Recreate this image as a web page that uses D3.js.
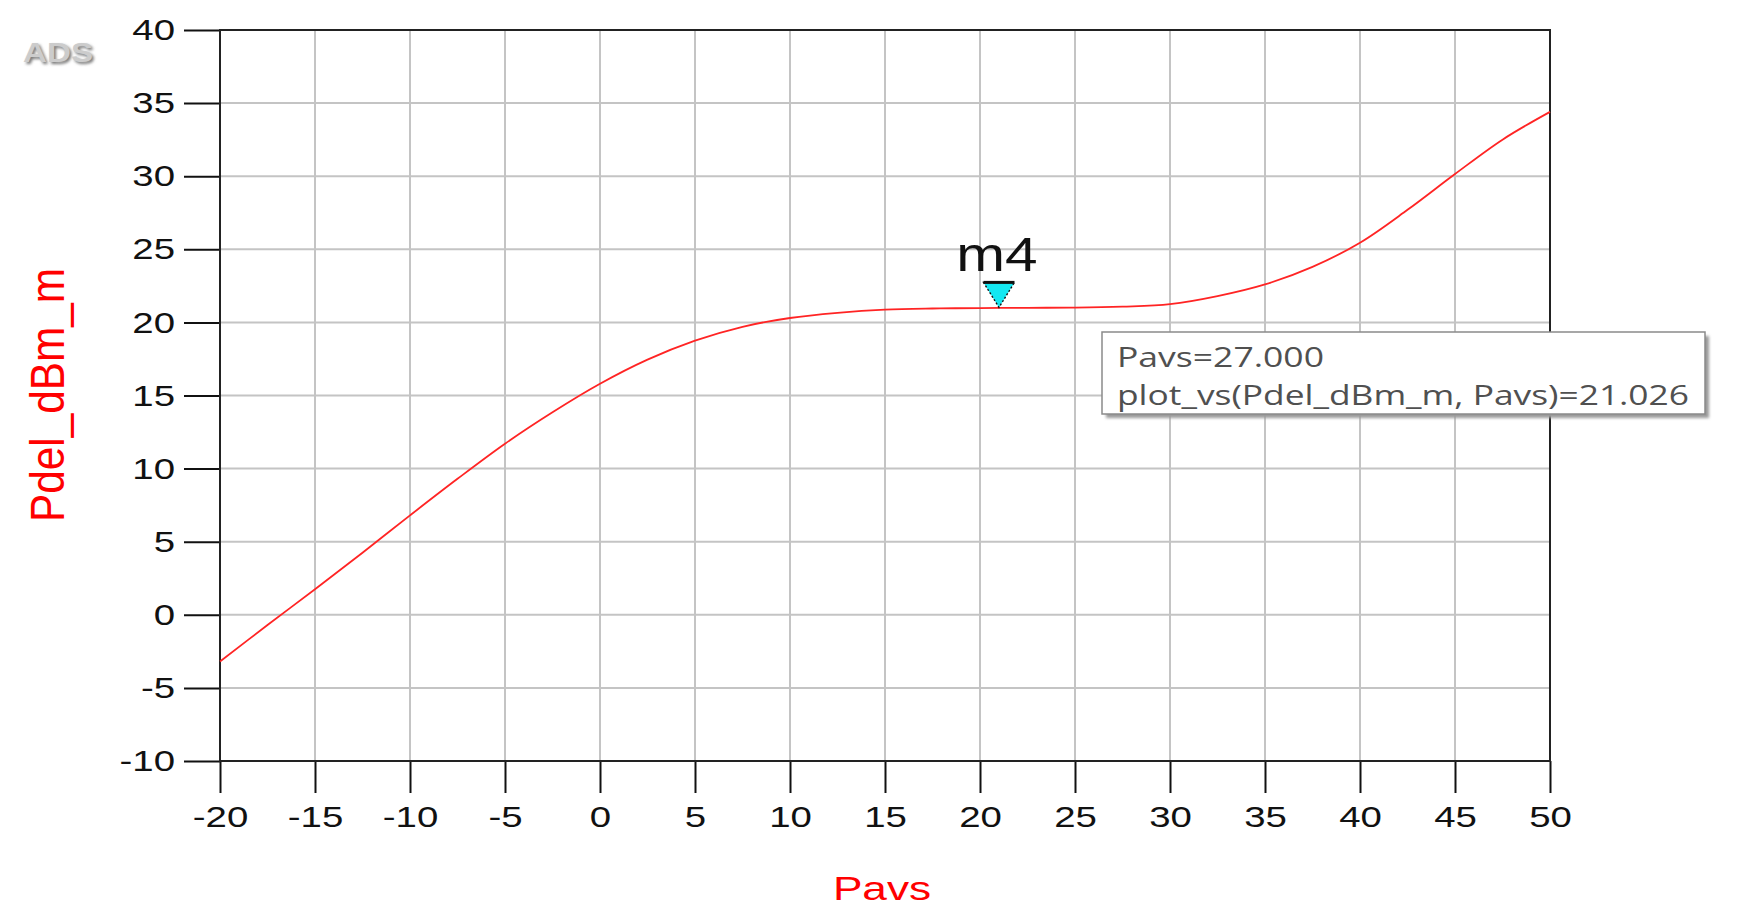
<!DOCTYPE html>
<html>
<head>
<meta charset="utf-8">
<script src="https://cdn.jsdelivr.net/npm/d3@7"></script>
<style>
  html, body { margin: 0; padding: 0; background: #fff; }
  svg { display: block; font-family: "Liberation Sans", Arial, sans-serif; }
</style>
</head>
<body>
<div id="chart"></div>
<script>
// swept input power vs delivered power
const pavs = [-20, -17.5, -15, -12.5, -10, -7.5, -5, -2.5, 0, 2.5, 5, 7.5, 10, 12.5, 15,
              17.5, 20, 22.5, 25, 27.5, 30, 32.5, 35, 37.5, 40, 42.5, 45, 47.5, 50]
const pdel = [-3.2, -0.7, 1.75, 4.25, 6.8, 9.3, 11.7, 13.85, 15.8, 17.45, 18.75, 19.7, 20.3, 20.65, 20.87,
              20.95, 20.98, 21.0, 21.01, 21.08, 21.25, 21.8, 22.6, 23.8, 25.45, 27.7, 30.15, 32.5, 34.4]

const xTicks = [-20, -15, -10, -5, 0, 5, 10, 15, 20, 25, 30, 35, 40, 45, 50]
const yTicks = [-10, -5, 0, 5, 10, 15, 20, 25, 30, 35, 40]

// marker m4 and its readout
const markerName = 'm4'
const markerX = 21
const markerY = 21.026
const readout = ['Pavs=27.000', 'plot_vs(Pdel_dBm_m, Pavs)=21.026']

const W = 1745, H = 908
const pLeft = 220, pRight = 1550, pTop = 30, pBottom = 761
const sx = 1.28   // the screenshot is stretched sideways

const svg = d3.select('#chart').append('svg')
  .attr('width', W)
  .attr('height', H)

const defs = svg.append('defs')
defs.append('filter').attr('id', 'blur').append('feGaussianBlur').attr('stdDeviation', 1.6)

const x = d3.scaleLinear().domain([-20, 50]).range([pLeft, pRight])
const y = d3.scaleLinear().domain([-10, 40]).range([pBottom, pTop])

// grid
svg.append('g').selectAll('line').data(xTicks).join('line')
  .attr('x1', d => x(d)).attr('x2', d => x(d))
  .attr('y1', pTop).attr('y2', pBottom)
  .attr('stroke', '#c4c4c4').attr('stroke-width', 2)
svg.append('g').selectAll('line').data(yTicks).join('line')
  .attr('x1', pLeft).attr('x2', pRight)
  .attr('y1', d => y(d)).attr('y2', d => y(d))
  .attr('stroke', '#c4c4c4').attr('stroke-width', 2)

// axes (plain hyphen for negatives, like ADS)
const fmt = d => String(d)
const yAxis = svg.append('g')
  .attr('transform', `translate(${pLeft},0)`)
  .call(d3.axisLeft(y).tickValues(yTicks).tickFormat(fmt).tickSize(36).tickSizeOuter(0).tickPadding(9))
yAxis.selectAll('text')
  .attr('font-size', 30)
  .attr('fill', '#111')
  .attr('x', -45 / sx)
  .attr('transform', `scale(${sx},1)`)

const xAxis = svg.append('g')
  .attr('transform', `translate(0,${pBottom})`)
  .call(d3.axisBottom(x).tickValues(xTicks).tickFormat(fmt).tickSize(32).tickSizeOuter(0))
xAxis.selectAll('text')
  .attr('font-size', 30)
  .attr('fill', '#111')
  .attr('y', 66).attr('dy', 0)
  .attr('transform', `scale(${sx},1)`)

svg.selectAll('.domain').remove()
svg.selectAll('.tick line').attr('stroke', '#111').attr('stroke-width', 2)

// frame
svg.append('rect')
  .attr('x', pLeft).attr('y', pTop)
  .attr('width', pRight - pLeft).attr('height', pBottom - pTop)
  .attr('fill', 'none').attr('stroke', '#222').attr('stroke-width', 2)

// curve
const line = d3.line()
  .x((d, i) => x(pavs[i]))
  .y(d => y(d))
  .curve(d3.curveCatmullRom.alpha(0.5))
svg.append('path')
  .datum(pdel)
  .attr('d', line)
  .attr('fill', 'none')
  .attr('stroke', '#ff2424')
  .attr('stroke-width', 1.8)

// marker
const mx = x(markerX), my = y(markerY)
svg.append('path')
  .attr('d', `M${mx - 15.5},${my - 25}L${mx + 15.5},${my - 25}L${mx},${my}Z`)
  .attr('fill', '#14e8f2')
  .attr('stroke', '#111').attr('stroke-width', 1.4)
  .attr('stroke-dasharray', '2,2')
svg.append('line')
  .attr('x1', mx - 15.5).attr('x2', mx + 15.5)
  .attr('y1', my - 25).attr('y2', my - 25)
  .attr('stroke', '#111').attr('stroke-width', 3)
svg.append('text')
  .attr('transform', `translate(${mx - 2},${my - 36}) scale(1.22,1)`)
  .attr('text-anchor', 'middle')
  .attr('font-size', 48)
  .attr('fill', '#111')
  .text(markerName)

// readout box
const bx = 1102, by = 332, bw = 603, bh = 82
svg.append('rect')
  .attr('x', bx + 4).attr('y', by + 4).attr('width', bw).attr('height', bh)
  .attr('fill', '#9a9a9a').attr('filter', 'url(#blur)')
svg.append('rect')
  .attr('x', bx).attr('y', by).attr('width', bw).attr('height', bh)
  .attr('fill', '#fff').attr('stroke', '#8a8a8a').attr('stroke-width', 1.5)
const readWidths = [207, 572]
svg.append('g').selectAll('text').data(readout).join('text')
  .attr('x', bx + 15)
  .attr('y', (d, i) => by + 35 + i * 38)
  .attr('font-family', '"Open Sans", sans-serif')
  .attr('font-size', 28)
  .attr('fill', '#505050')
  .attr('textLength', (d, i) => readWidths[i])
  .attr('lengthAdjust', 'spacingAndGlyphs')
  .text(d => d)

// axis titles
svg.append('text')
  .attr('transform', `translate(64,395) scale(1.2,1) rotate(-90)`)
  .attr('text-anchor', 'middle')
  .attr('font-size', 40)
  .attr('fill', '#ff0000')
  .attr('textLength', 254)
  .attr('lengthAdjust', 'spacingAndGlyphs')
  .text('Pdel_dBm_m')

svg.append('text')
  .attr('transform', `translate(882,900) scale(1.3,1)`)
  .attr('text-anchor', 'middle')
  .attr('font-size', 34)
  .attr('fill', '#ff0000')
  .text('Pavs')

// ADS badge
svg.append('text')
  .attr('x', 25).attr('y', 64)
  .attr('font-size', 27).attr('font-weight', 'bold')
  .attr('fill', '#777').attr('filter', 'url(#blur)')
  .attr('textLength', 70).attr('lengthAdjust', 'spacingAndGlyphs')
  .text('ADS')
svg.append('text')
  .attr('x', 23).attr('y', 62)
  .attr('font-size', 27).attr('font-weight', 'bold')
  .attr('fill', '#cccccc')
  .attr('textLength', 70).attr('lengthAdjust', 'spacingAndGlyphs')
  .text('ADS')
</script>
</body>
</html>
